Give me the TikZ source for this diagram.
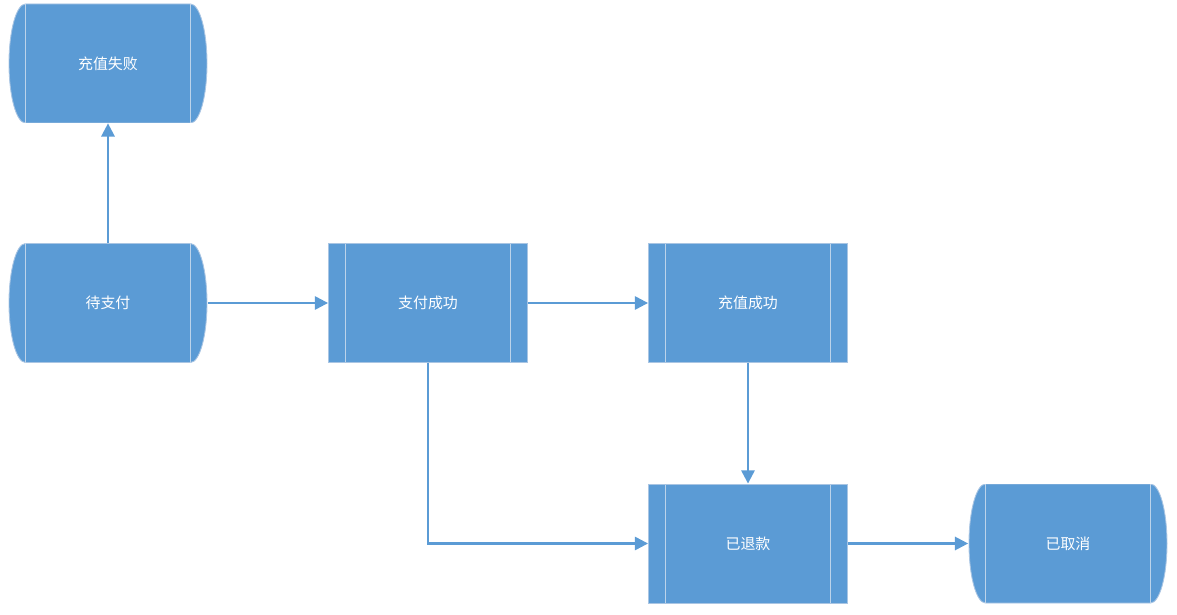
\documentclass[tikz,border=0pt]{standalone}
\usepackage{fontspec}
\setmainfont{Noto Sans CJK SC}
\usetikzlibrary{arrows.meta}

\definecolor{stateblue}{HTML}{5B9BD5}
\definecolor{stateedge}{HTML}{A9C5E3}
\definecolor{stateline}{HTML}{BCD3EA}

\tikzset{
  statebox/.style={minimum width=3.98cm, minimum height=2.38cm, inner sep=0pt,
    text=white, font=\fontsize{8.5}{10}\selectfont},
  sidelines/.style={
    path picture={
      \draw[stateline, line width=0.5pt]
        ([xshift=0.34cm]path picture bounding box.north west) -- ([xshift=0.34cm]path picture bounding box.south west)
        ([xshift=-0.34cm]path picture bounding box.north east) -- ([xshift=-0.34cm]path picture bounding box.south east);}},
  process/.style={statebox, draw=stateedge, fill=stateblue, line width=0.5pt, sidelines},
  storage/.style={statebox,
    path picture={
      \filldraw[fill=stateblue, draw=stateedge, line width=0.5pt]
        ([xshift=0.34cm]path picture bounding box.north west)
        -- ([xshift=-0.34cm]path picture bounding box.north east)
        arc[start angle=90, end angle=-90, x radius=0.33cm, y radius=1.19cm]
        -- ([xshift=0.34cm]path picture bounding box.south west)
        arc[start angle=270, end angle=90, x radius=0.33cm, y radius=1.19cm]
        -- cycle;
      \draw[stateline, line width=0.5pt]
        ([xshift=0.34cm]path picture bounding box.north west) -- ([xshift=0.34cm]path picture bounding box.south west)
        ([xshift=-0.34cm]path picture bounding box.north east) -- ([xshift=-0.34cm]path picture bounding box.south east);}},
  flow/.style={draw=stateblue, line width=1.3pt, -{Triangle[length=7.5pt,width=7.5pt]}}
}

\begin{document}
\begin{tikzpicture}
  \useasboundingbox (0,0) rectangle (23.54,-12.30);

  % States
  \node[storage] (fail) at (2.16,-1.27) {充值失败};
  \node[storage] (wait) at (2.16,-6.06) {待支付};
  \node[process] (paid) at (8.56,-6.06) {支付成功};
  \node[process] (done) at (14.96,-6.06) {充值成功};
  \node[process] (refund) at (14.96,-10.87) {已退款};
  \node[storage] (cancel) at (21.36,-10.87) {已取消};

  % Transitions
  \draw[flow] (wait) -- (fail);
  \draw[flow] (wait) -- (paid);
  \draw[flow] (paid) -- (done);
  \draw[flow] (done) -- (refund);
  \draw[flow] (paid.south) |- (refund.west);
  \draw[flow] (refund) -- (cancel);
\end{tikzpicture}
\end{document}
